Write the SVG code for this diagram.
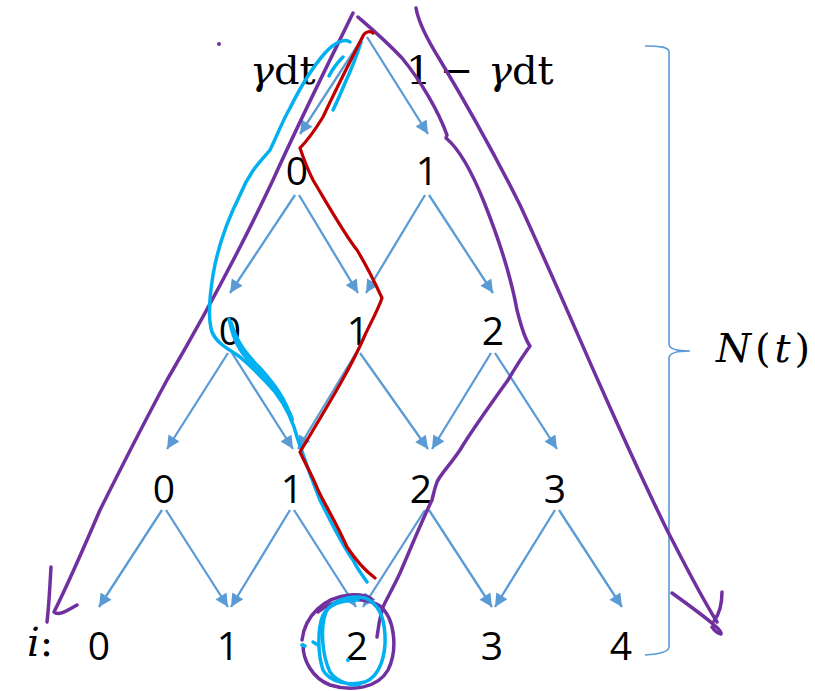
<svg xmlns="http://www.w3.org/2000/svg" width="815" height="691" viewBox="0 0 815 691">
<style>
.num{font-family:"Open Sans","Liberation Sans",sans-serif;font-size:39px;fill:#000;text-anchor:middle}
.math{font-family:"DejaVu Serif","Liberation Serif",serif;font-size:40px;fill:#000}
.it{font-style:italic}
.arr{stroke:#5B9BD5;stroke-width:2.3;fill:none;marker-end:url(#ah)}
.pur{stroke:#7030A0;stroke-width:3.5;fill:none;stroke-linecap:round;stroke-linejoin:round}
.cy{stroke:#00B0F0;stroke-width:3.5;fill:none;stroke-linecap:round;stroke-linejoin:round}
.red{stroke:#C00000;stroke-width:3.2;fill:none;stroke-linecap:round;stroke-linejoin:round}
</style>
<defs>
<marker id="ah" viewBox="0 0 10 10" refX="10" refY="5" markerWidth="15" markerHeight="13" markerUnits="userSpaceOnUse" orient="auto">
<path d="M0,0 L10,5 L0,10 z" fill="#5B9BD5"/>
</marker>
</defs>
<rect width="815" height="691" fill="#fff"/>

<g id="labels">
<text class="math" x="250" y="84"><tspan class="it">γ</tspan>dt</text>
<text class="math" x="406" y="84">1</text>
<text class="math" x="440" y="84">−</text>
<text class="math" x="488" y="84"><tspan class="it">γ</tspan>dt</text>
<text class="math" x="716" y="362" font-size="42" textLength="94" lengthAdjust="spacing"><tspan class="it">N</tspan>(<tspan class="it">t</tspan>)</text>
<text class="math" x="27" y="656" font-size="42"><tspan class="it">i</tspan>:</text>
</g>

<g id="connectors">
<line class="arr" x1="363" y1="37" x2="300" y2="134"/>
<line class="arr" x1="367" y1="37" x2="428" y2="134"/>
<line class="arr" x1="295" y1="195" x2="230" y2="293"/>
<line class="arr" x1="299" y1="195" x2="358" y2="293"/>
<line class="arr" x1="425" y1="195" x2="366" y2="293"/>
<line class="arr" x1="429" y1="195" x2="493" y2="293"/>
<line class="arr" x1="228" y1="353" x2="167" y2="449"/>
<line class="arr" x1="232" y1="353" x2="293" y2="449"/>
<line class="arr" x1="356" y1="353" x2="298" y2="449"/>
<line class="arr" x1="360" y1="353" x2="428" y2="449"/>
<line class="arr" x1="491" y1="353" x2="432" y2="449"/>
<line class="arr" x1="495" y1="353" x2="557" y2="449"/>
<line class="arr" x1="162" y1="510" x2="99" y2="607"/>
<line class="arr" x1="166" y1="510" x2="228" y2="607"/>
<line class="arr" x1="290" y1="510" x2="231" y2="607"/>
<line class="arr" x1="294" y1="510" x2="356" y2="607"/>
<line class="arr" x1="425" y1="510" x2="363" y2="607"/>
<line class="arr" x1="429" y1="510" x2="492" y2="607"/>
<line class="arr" x1="555" y1="510" x2="495" y2="607"/>
<line class="arr" x1="559" y1="510" x2="622" y2="607"/>
<path d="M645,46 C660,46 669,47 669,52 L669,344 C669,349 676,351 690,351 C676,351 669,353 669,358 L669,647 C669,652 660,654 645,655" fill="none" stroke="#5B9BD5" stroke-width="1.6"/>
</g>

<g id="n1-0"><text class="num" x="297" y="185">0</text></g>
<g id="n1-1"><text class="num" x="427" y="185">1</text></g>
<g id="n2-0"><text class="num" x="230" y="345">0</text></g>
<g id="n2-1"><text class="num" x="358" y="345">1</text></g>
<g id="n2-2"><text class="num" x="493" y="345">2</text></g>
<g id="n3-0"><text class="num" x="164" y="503">0</text></g>
<g id="n3-1"><text class="num" x="292" y="503">1</text></g>
<g id="n3-2"><text class="num" x="421" y="503">2</text></g>
<g id="n3-3"><text class="num" x="555" y="503">3</text></g>
<g id="n4-0"><text class="num" x="99" y="660">0</text></g>
<g id="n4-1"><text class="num" x="228" y="660">1</text></g>
<g id="n4-2"><text class="num" x="357" y="660">2</text></g>
<g id="n4-3"><text class="num" x="492" y="660">3</text></g>
<g id="n4-4"><text class="num" x="621" y="660">4</text></g>

<g id="annotations">
<circle cx="219" cy="44" r="2" fill="#7030A0"/>
<path class="pur" d="M353,13 C330,60 300,120 273,180 C240,250 205,315 167,380 C140,430 120,470 100,510 C85,545 70,580 54,612 C58,616 65,612 77,605"/>
<path class="pur" d="M51,567 C50,585 49,605 47,622"/>
<path class="pur" d="M358,17 C366,24 383,38 402,58 C420,80 438,110 447,135 L446,138 C458,148 472,172 484,202 C496,232 510,272 517,310 C522,330 527,342 530,346 C522,357 515,368 508,380 C490,405 472,430 460,450 C450,465 440,475 437,482 C434,490 433,496 432,500 C420,525 410,550 400,573 C392,590 386,600 383,607 C380,617 378,628 377,637"/>
<path class="pur" d="M416,8 C418,20 425,36 440,60 C470,110 500,165 520,205 C550,270 580,340 600,385 C620,430 640,475 667,530 C685,565 700,595 717,622"/>
<path class="pur" d="M672,593 C690,606 705,617 713,624 C718,628 722,632 721,634 C717,633 714,630 712,627"/>
<path class="pur" d="M722,592 C722,603 720,613 714,621"/>
<path class="pur" d="M302,640 C305,615 325,597 350,595 C362,594 370,597 372,600"/>
<path class="pur" d="M318,612 C332,600 360,594 380,606 C395,618 398,650 388,670 C378,688 352,692 330,685 C312,678 303,660 303,645"/>
<path class="cy" d="M350,42 C345,38 335,42 325,53 C310,70 298,92 290,108 C282,122 276,138 270,150 C262,160 250,170 240,195 C230,215 218,245 213,275 C209,300 208,320 212,332 C216,342 225,347 240,357 C255,370 265,380 275,392 C285,405 293,420 298,440 C303,455 310,475 320,500 C330,520 342,545 353,560 C358,570 363,576 367,582"/>
<path class="cy" d="M229,319 C232,332 235,345 248,360 C262,375 280,392 288,410 C290,414 292,417 292,419"/>
<path class="cy" d="M231,322 C236,340 244,352 260,368 C275,385 285,398 292,420"/>
<path class="cy" d="M361,42 C357,55 351,70 345,83 C340,95 336,104 333,110"/>
<path class="cy" d="M343,57 C338,62 333,68 329,76"/>
<path class="cy" d="M358,600 C345,600 330,602 323,615 C317,630 318,655 323,670 C330,683 350,686 365,682 C380,676 386,655 385,635 C384,615 378,603 365,598 C350,595 332,600 326,612 C320,628 322,655 330,672 C338,684 355,686 360,684"/>
<circle cx="348" cy="660" r="2" fill="#00B0F0"/>
<path class="cy" d="M302,645 L305,646"/>
<path class="cy" d="M313,642 L318,645"/>
<path class="red" d="M373,33 C370,30 364,32 362,38 C352,58 338,85 323,117 C315,130 308,140 300,148 C304,160 308,170 313,180 C328,205 345,235 357,250 C368,268 376,285 382,298 C378,310 372,320 365,335 C350,370 325,410 300,452 C306,465 312,475 318,490 C325,505 335,520 347,547 C357,562 367,572 375,578"/>
</g>
</svg>
